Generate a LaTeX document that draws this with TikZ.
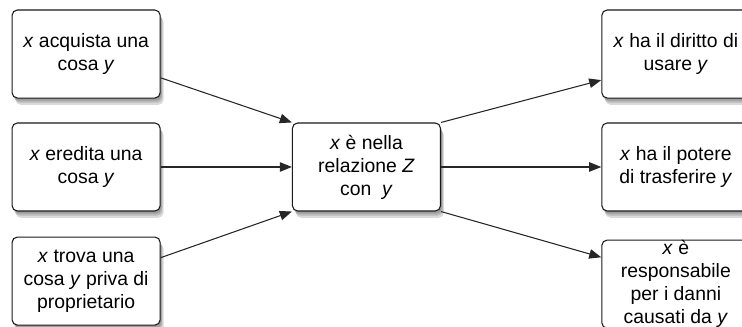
\documentclass[tikz,border=0pt]{standalone}
\usepackage{fontspec}
\setmainfont{Liberation Sans}
\usetikzlibrary{arrows.meta,positioning,shadows}
\tikzset{
	>={Triangle[length=3.2mm,width=2.5mm]}, % filled arrow heads
	on grid,
	ombra/.style={drop shadow={shadow xshift=#1, shadow yshift=-2*#1, fill=black, opacity=0.15}},
	cosa/.style={draw=black!90, line width=0.8pt, fill=white, rounded corners=4pt,
		minimum width=3.92cm, minimum height=2.33cm, inner xsep=2pt, inner ysep=0pt,
		align=center, font=\fontsize{14.6}{17.4}\selectfont,
		ombra=0.9mm, ombra=0.6mm, ombra=0.35mm},
	freccia/.style={->, line width=0.8pt, draw=black!85},
}

\begin{document}
\begin{tikzpicture}
      \useasboundingbox (-9.70,4.42) rectangle (9.94,-4.23);

      \node[cosa] (rel) at (0,0) {\textit{x} è nella\\relazione \textit{Z}\\con~~\textit{y}};

      \node[cosa, above left=2.99cm and 7.42cm of rel] (acq) {\textit{x} acquista una\\cosa \textit{y}};
      \node[cosa, left=7.42cm of rel] (ered) {\textit{x} eredita una\\cosa \textit{y}};
      \node[cosa, below left=3.02cm and 7.42cm of rel] (trova) {\textit{x} trova una\\cosa \textit{y} priva di\\proprietario};

      \node[cosa, above right=2.99cm and 8.19cm of rel] (uso) {\textit{x} ha il diritto di\\usare \textit{y}};
      \node[cosa, right=8.19cm of rel] (tras) {\textit{x} ha il potere\\di trasferire \textit{y}};
      \node[cosa, below right=3.1cm and 8.19cm of rel] (resp) {\textit{x} è\\responsabile\\per i danni\\causati da \textit{y}};

      \draw[freccia] ([yshift=-0.63cm]acq.east) -- (rel.north west);
      \draw[freccia] (ered.east) -- (rel.west);
      \draw[freccia] ([yshift=0.62cm]trova.east) -- (rel.south west);

      \draw[freccia] (rel.north east) -- ([yshift=-0.69cm]uso.west);
      \draw[freccia] (rel.east) -- (tras.west);
      \draw[freccia] (rel.south east) -- ([yshift=0.71cm]resp.west);
\end{tikzpicture}
\end{document}
